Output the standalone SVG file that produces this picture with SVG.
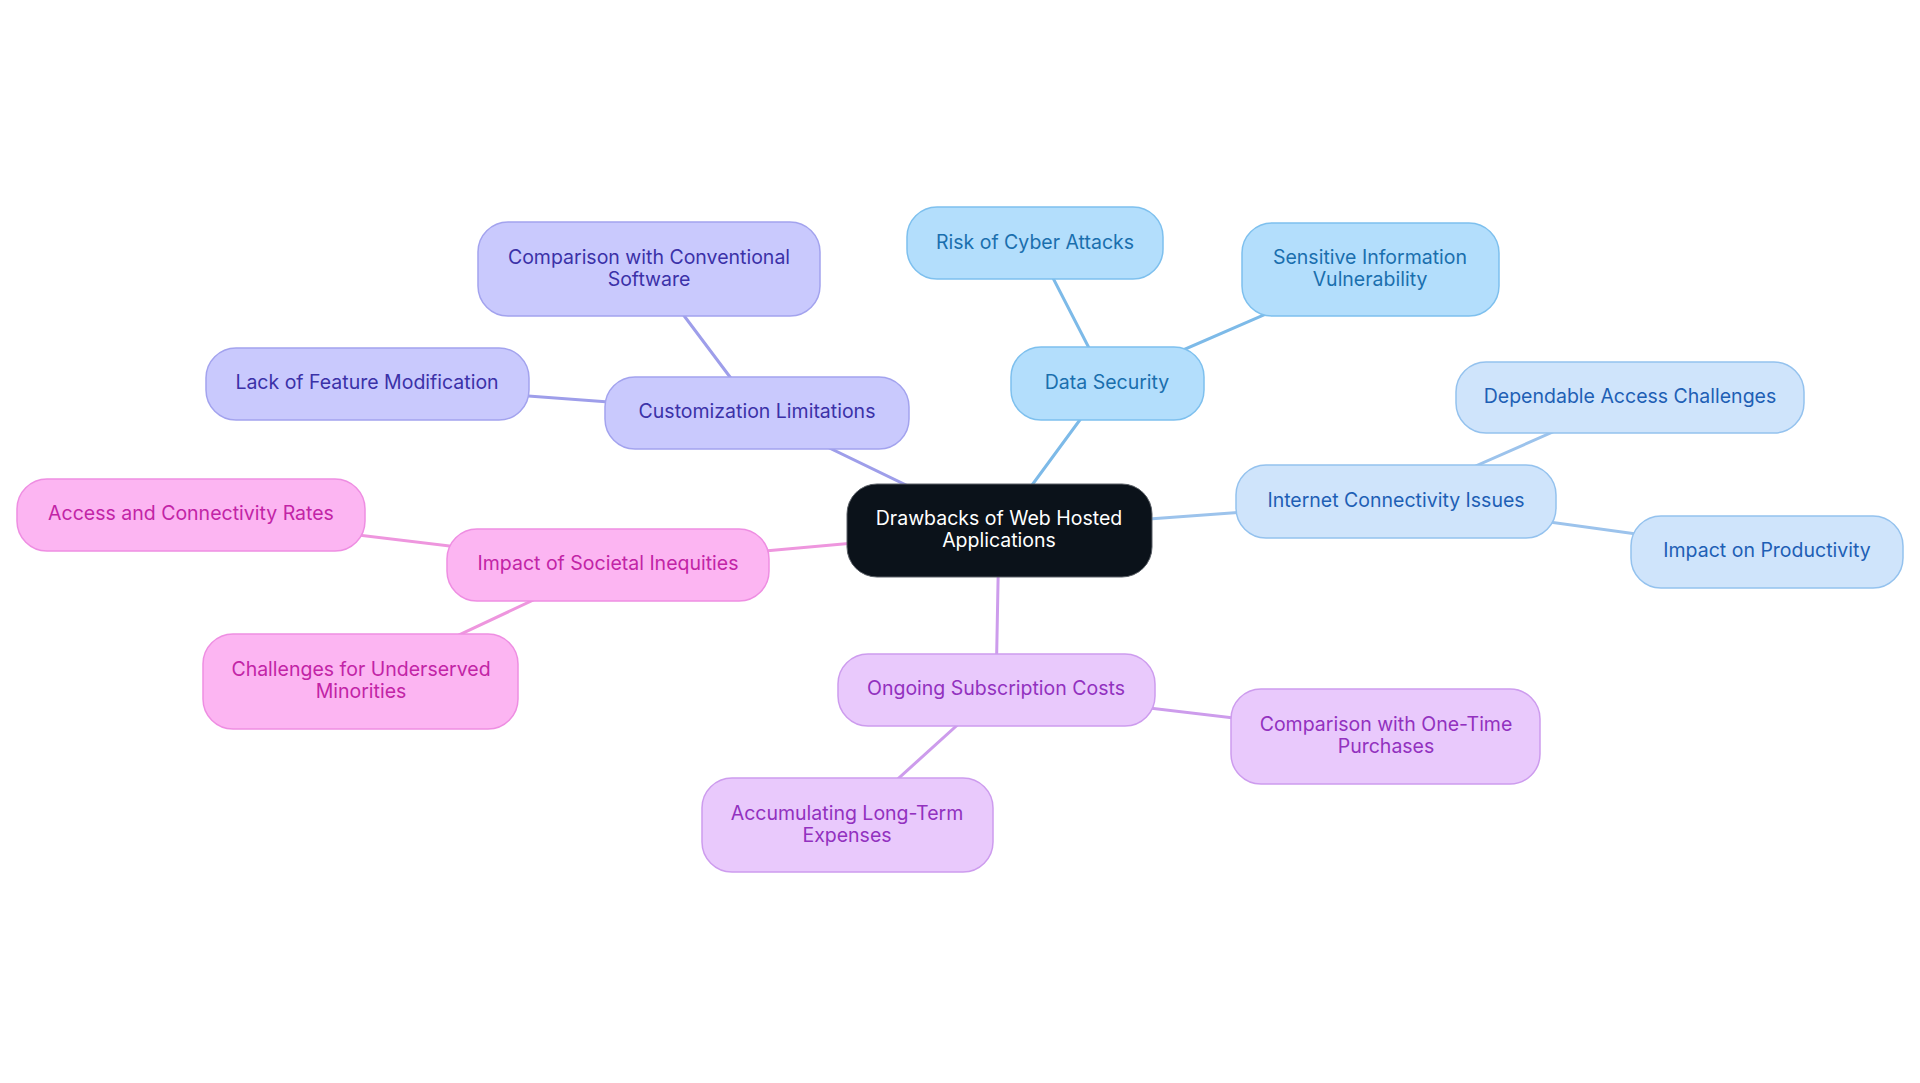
<svg xmlns="http://www.w3.org/2000/svg" width="1920" height="1083" viewBox="0 0 1920 1083">
<style>
text{font-family:Inter,"Noto Sans","Liberation Sans",sans-serif;font-size:19.5px;text-anchor:middle}
.c line{stroke-width:3;stroke-linecap:round}
.ds rect{fill:#b3defc;stroke:#7ec0ee;stroke-width:1.5}.ds text{fill:#1a6fae}
.ic rect{fill:#cfe4fb;stroke:#94c2ee;stroke-width:1.5}.ic text{fill:#1e5fb5}
.cu rect{fill:#c9c9fd;stroke:#a3a3ee;stroke-width:1.5}.cu text{fill:#3b31a8}
.so rect{fill:#fcb5f2;stroke:#ee8ee2;stroke-width:1.5}.so text{fill:#c224a6}
.su rect{fill:#e9c9fc;stroke:#cd9cee;stroke-width:1.5}.su text{fill:#9231bf}
</style>
<rect width="1920" height="1083" fill="#ffffff"/>
<g class="c" id="connectors">
<line x1="999" y1="530" x2="1107" y2="383" stroke="#7dbae8"/>
<line x1="1107" y1="383" x2="1035" y2="243" stroke="#7dbae8"/>
<line x1="1107" y1="383" x2="1370" y2="269" stroke="#7dbae8"/>
<line x1="999" y1="530" x2="1396" y2="501" stroke="#9cc3ec"/>
<line x1="1396" y1="501" x2="1630" y2="398" stroke="#9cc3ec"/>
<line x1="1396" y1="501" x2="1767" y2="552" stroke="#9cc3ec"/>
<line x1="999" y1="530" x2="996" y2="690" stroke="#cd9cec"/>
<line x1="996" y1="690" x2="1386" y2="736" stroke="#cd9cec"/>
<line x1="996" y1="690" x2="847" y2="825" stroke="#cd9cec"/>
<line x1="999" y1="530" x2="608" y2="565" stroke="#ee96de"/>
<line x1="608" y1="565" x2="191" y2="515" stroke="#ee96de"/>
<line x1="608" y1="565" x2="361" y2="681" stroke="#ee96de"/>
<line x1="999" y1="530" x2="757" y2="413" stroke="#9e9eea"/>
<line x1="757" y1="413" x2="367" y2="384" stroke="#9e9eea"/>
<line x1="757" y1="413" x2="649" y2="269" stroke="#9e9eea"/>
</g>
<g id="root">
<rect x="847" y="484" width="305" height="93" rx="30" fill="#0b121a" stroke="#5a5f66" stroke-width="1"/>
<text x="999" y="525" fill="#ffffff">Drawbacks of Web Hosted</text>
<text x="999" y="547" fill="#ffffff">Applications</text>
</g>
<g id="data-security" class="ds"><rect x="1011" y="347" width="193" height="73" rx="30"/><text x="1107" y="389">Data Security</text></g>
<g id="risk-cyber" class="ds"><rect x="907" y="207" width="256" height="72" rx="30"/><text x="1035" y="249">Risk of Cyber Attacks</text></g>
<g id="sensitive-info" class="ds"><rect x="1242" y="223" width="257" height="93" rx="30"/><text x="1370" y="264">Sensitive Information</text><text x="1370" y="286">Vulnerability</text></g>
<g id="internet" class="ic"><rect x="1236" y="465" width="320" height="73" rx="30"/><text x="1396" y="507">Internet Connectivity Issues</text></g>
<g id="dependable" class="ic"><rect x="1456" y="362" width="348" height="71" rx="30"/><text x="1630" y="403">Dependable Access Challenges</text></g>
<g id="productivity" class="ic"><rect x="1631" y="516" width="272" height="72" rx="30"/><text x="1767" y="557">Impact on Productivity</text></g>
<g id="subscription" class="su"><rect x="838" y="654" width="317" height="72" rx="30"/><text x="996" y="695">Ongoing Subscription Costs</text></g>
<g id="one-time" class="su"><rect x="1231" y="689" width="309" height="95" rx="30"/><text x="1386" y="731">Comparison with One-Time</text><text x="1386" y="753">Purchases</text></g>
<g id="long-term" class="su"><rect x="702" y="778" width="291" height="94" rx="30"/><text x="847" y="820">Accumulating Long-Term</text><text x="847" y="842">Expenses</text></g>
<g id="societal" class="so"><rect x="447" y="529" width="322" height="72" rx="30"/><text x="608" y="570">Impact of Societal Inequities</text></g>
<g id="access-rates" class="so"><rect x="17" y="479" width="348" height="72" rx="30"/><text x="191" y="520">Access and Connectivity Rates</text></g>
<g id="underserved" class="so"><rect x="203" y="634" width="315" height="95" rx="30"/><text x="361" y="676">Challenges for Underserved</text><text x="361" y="698">Minorities</text></g>
<g id="customization" class="cu"><rect x="605" y="377" width="304" height="72" rx="30"/><text x="757" y="418">Customization Limitations</text></g>
<g id="feature-mod" class="cu"><rect x="206" y="348" width="323" height="72" rx="30"/><text x="367" y="389">Lack of Feature Modification</text></g>
<g id="conventional" class="cu"><rect x="478" y="222" width="342" height="94" rx="30"/><text x="649" y="264">Comparison with Conventional</text><text x="649" y="286">Software</text></g>
</svg>
